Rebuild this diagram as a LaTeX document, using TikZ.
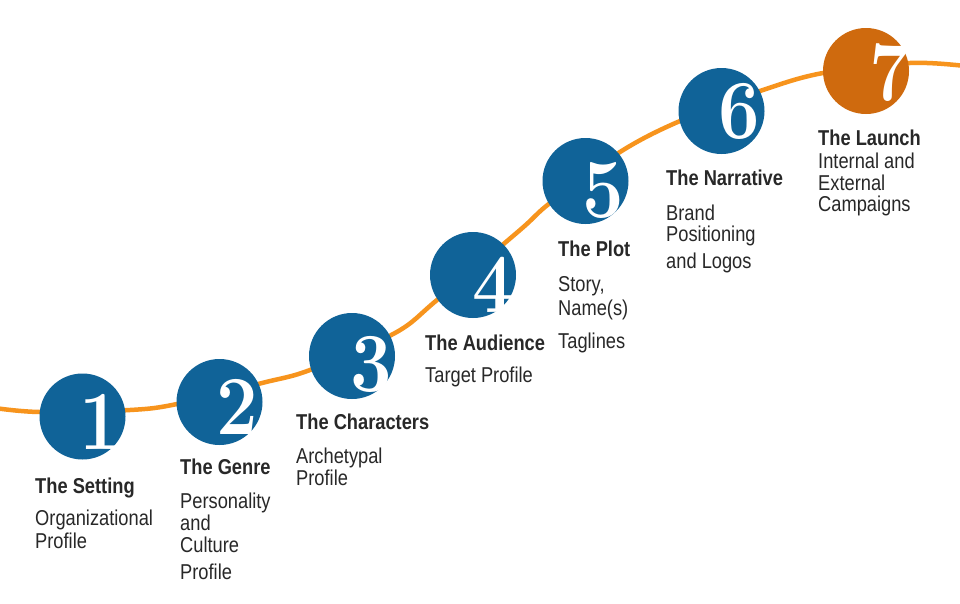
\documentclass[tikz,border=0pt]{standalone}
\usepackage{fontspec}
\newfontfamily\labfont[FakeStretch=0.85]{Liberation Sans}
\newfontfamily\digitfont[FakeStretch=0.88]{Latin Modern Roman}
\definecolor{stepblue}{RGB}{16,99,152}
\definecolor{steporange}{RGB}{207,106,14}
\definecolor{curveorange}{RGB}{247,148,29}
\definecolor{txtgray}{RGB}{40,40,40}
\tikzset{
  curveline/.style={draw=curveorange, line width=4.5pt, line cap=round},
  stepdisc/.style={circle, fill=stepblue, minimum size=86pt, inner sep=0pt},
  lastdisc/.style={stepdisc, fill=steporange},
  digit/.style={text=white, inner sep=0pt, font=\digitfont\bfseries\fontsize{84}{84}\selectfont},
  steptitle/.style={anchor=base west, inner sep=0pt, text=txtgray, font=\labfont\bfseries\fontsize{21.5}{24}\selectfont},
  steptext/.style={anchor=base west, inner sep=0pt, text=txtgray, font=\labfont\fontsize{21.5}{24}\selectfont}
}
\begin{document}
\begin{tikzpicture}[x=1pt,y=-1pt]
\useasboundingbox[fill=white] (0,0) rectangle (960,603);
\draw[curveline] plot[smooth, tension=0.55] coordinates {(-5,408) (40,412) (130,410) (177,404) (262,383) (310,370) (395,333) (437,300) (520,230) (550,203) (620,152) (680,121) (763,90) (823,73) (910,63) (965,66)};
% discs
\node[stepdisc] (c1) at (82.5,416.5) {};
\node[stepdisc] (c2) at (219.5,402) {};
\node[stepdisc] (c3) at (352,356) {};
\node[stepdisc] (c4) at (473,275) {};
\node[stepdisc] (c5) at (585.5,181) {};
\node[stepdisc] (c6) at (721.5,111) {};
\node[lastdisc] (c7) at (866,71) {};
% digits
\node[digit] (n1) at ([shift={(18,5)}]c1.center) {1};
\node[digit] (n2) at ([shift={(18,5)}]c2.center) {2};
\node[digit] (n3) at ([shift={(19,8)}]c3.center) {3};
\node[digit] (n4) at ([shift={(20,10)}]c4.center) {4};
\node[digit] (n5) at ([shift={(18,9)}]c5.center) {5};
\node[digit] (n6) at ([shift={(18,0)}]c6.center) {6};
\node[digit] (n7) at ([shift={(24,2)}]c7.center) {7};
% texts 1
\node[steptitle] (t1) at (35,493) {The Setting};
\node[steptext] (t1a) at (35,525) {Organizational};
\node[steptext] (t1b) at (35,548) {Profile};
% texts 2
\node[steptitle] (t2) at (180,474) {The Genre};
\node[steptext] (t2a) at (180,508) {Personality};
\node[steptext] (t2b) at (180,530) {and};
\node[steptext] (t2c) at (180,552) {Culture};
\node[steptext] (t2d) at (180,579) {Profile};
% texts 3
\node[steptitle] (t3) at (296,429) {The Characters};
\node[steptext] (t3a) at (296,463) {Archetypal};
\node[steptext] (t3b) at (296,485) {Profile};
% texts 4
\node[steptitle] (t4) at (425,350) {The Audience};
\node[steptext] (t4a) at (425,382) {Target Profile};
% texts 5
\node[steptitle] (t5) at (558,256) {The Plot};
\node[steptext] (t5a) at (558,291) {Story,};
\node[steptext] (t5b) at (558,315) {Name(s)};
\node[steptext] (t5c) at (558,348) {Taglines};
% texts 6
\node[steptitle] (t6) at (666,185) {The Narrative};
\node[steptext] (t6a) at (666,220) {Brand};
\node[steptext] (t6b) at (666,241) {Positioning};
\node[steptext] (t6c) at (666,268) {and Logos};
% texts 7
\node[steptitle] (t7) at (818,145) {The Launch};
\node[steptext] (t7a) at (818,168) {Internal and};
\node[steptext] (t7b) at (818,190) {External};
\node[steptext] (t7c) at (818,211) {Campaigns};
\end{tikzpicture}
\end{document}
